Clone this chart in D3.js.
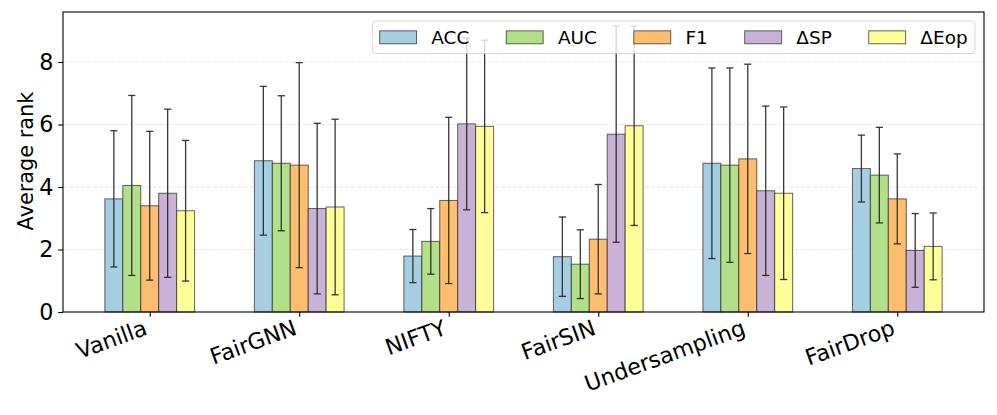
<!DOCTYPE html>
<html>
<head>
<meta charset="utf-8">
<script src="https://cdn.jsdelivr.net/npm/d3@7"></script>
<style>
  body { margin: 0; background: #fff; }
  text { font-family: "DejaVu Sans", sans-serif; }
</style>
</head>
<body>
<div id="chart"></div>
<script>
var svgWidth = 997;
var svgHeight = 415;

// data
var methods = ["Vanilla", "FairGNN", "NIFTY", "FairSIN", "Undersampling", "FairDrop"];
var metrics = ["ACC", "AUC", "F1", "\u0394SP", "\u0394Eop"];
var colors = ["#a6cee3", "#b2df8a", "#fdbf6f", "#cab2d6", "#ffff99"];

var accMean = [3.62, 4.84, 1.79, 1.77, 4.76, 4.59];
var accStd  = [2.18, 2.38, 0.85, 1.27, 3.05, 1.07];
var aucMean = [4.05, 4.76, 2.26, 1.53, 4.70, 4.38];
var aucStd  = [2.88, 2.16, 1.05, 1.10, 3.11, 1.53];
var f1Mean  = [3.40, 4.70, 3.57, 2.33, 4.90, 3.62];
var f1Std   = [2.38, 3.28, 2.66, 1.75, 3.03, 1.44];
var spMean  = [3.80, 3.31, 6.02, 5.69, 3.88, 1.97];
var spStd   = [2.69, 2.73, 2.75, 3.46, 2.71, 1.18];
var eopMean = [3.24, 3.36, 5.94, 5.96, 3.80, 2.10];
var eopStd  = [2.25, 2.81, 2.76, 3.19, 2.76, 1.07];

var yTicks = [0, 2, 4, 6, 8];

var means = [accMean, aucMean, f1Mean, spMean, eopMean];
var stds = [accStd, aucStd, f1Std, spStd, eopStd];

var barWidth = 0.12;
var plotLeft = 63, plotRight = 984, plotTop = 12, plotBottom = 312;
var px = 100 / 72; // points to pixels

var x = d3.scaleLinear().domain([-0.58, 5.58]).range([plotLeft, plotRight]);
var y = d3.scaleLinear().domain([0, 9.6]).range([plotBottom, plotTop]);

var svg = d3.select("#chart")
    .append("svg")
    .attr("width", svgWidth)
    .attr("height", svgHeight);

// grid
svg.append("g")
    .selectAll("line")
    .data(yTicks.slice(1))
    .enter()
    .append("line")
    .attr("x1", plotLeft)
    .attr("x2", plotRight)
    .attr("y1", function(d) { return y(d); })
    .attr("y2", function(d) { return y(d); })
    .attr("stroke", "#b0b0b0")
    .attr("stroke-opacity", 0.35)
    .attr("stroke-width", 0.8)
    .attr("stroke-dasharray", "4,2");

// flatten into one record per bar
var bars = [];
metrics.forEach(function(m, j) {
    methods.forEach(function(name, i) {
        bars.push({ i: i, j: j, mean: means[j][i], std: stds[j][i] });
    });
});

function barCenter(d) {
    return d.i + (d.j - 2) * barWidth;
}

svg.append("g")
    .selectAll("rect")
    .data(bars)
    .enter()
    .append("rect")
    .attr("x", function(d) { return x(barCenter(d) - barWidth / 2); })
    .attr("y", function(d) { return y(d.mean); })
    .attr("width", x(barWidth) - x(0))
    .attr("height", function(d) { return y(0) - y(d.mean); })
    .attr("fill", function(d) { return colors[d.j]; })
    .attr("stroke", "#222")
    .attr("stroke-opacity", 0.7)
    .attr("stroke-width", 1);

// error bars
var capHalf = 3.6;
var err = svg.append("g")
    .attr("stroke", "#222")
    .attr("stroke-width", 1.3)
    .attr("stroke-opacity", 0.9);

err.selectAll("line.v")
    .data(bars)
    .enter()
    .append("line")
    .attr("class", "v")
    .attr("x1", function(d) { return x(barCenter(d)); })
    .attr("x2", function(d) { return x(barCenter(d)); })
    .attr("y1", function(d) { return y(d.mean - d.std); })
    .attr("y2", function(d) { return y(d.mean + d.std); });

[-1, 1].forEach(function(s) {
    err.selectAll("line.cap" + (s > 0 ? "t" : "b"))
        .data(bars)
        .enter()
        .append("line")
        .attr("class", "cap" + (s > 0 ? "t" : "b"))
        .attr("x1", function(d) { return x(barCenter(d)) - capHalf; })
        .attr("x2", function(d) { return x(barCenter(d)) + capHalf; })
        .attr("y1", function(d) { return y(d.mean + s * d.std); })
        .attr("y2", function(d) { return y(d.mean + s * d.std); });
});

// axes
var tickLen = 3.5 * px;
var tickFont = 16 * px;

var yAxis = svg.append("g")
    .attr("transform", "translate(" + plotLeft + ",0)")
    .call(d3.axisLeft(y).tickValues(yTicks).tickSize(tickLen).tickPadding(tickLen).tickFormat(d3.format("d")));
yAxis.select(".domain").remove();
yAxis.selectAll("line").attr("stroke", "#000").attr("stroke-width", 1.1);
yAxis.selectAll("text")
    .attr("font-size", tickFont)
    .attr("font-family", "DejaVu Sans")
    .attr("fill", "#000");

var xAxis = svg.append("g")
    .attr("transform", "translate(0," + plotBottom + ")")
    .call(d3.axisBottom(x).tickValues(d3.range(methods.length)).tickSize(tickLen)
        .tickFormat(function(d) { return methods[d]; }));
xAxis.select(".domain").remove();
xAxis.selectAll("line").attr("stroke", "#000").attr("stroke-width", 1.1);
xAxis.selectAll("text")
    .attr("font-size", tickFont)
    .attr("font-family", "DejaVu Sans")
    .attr("fill", "#000")
    .attr("text-anchor", "end")
    .attr("y", null)
    .attr("dy", null)
    .attr("transform", "translate(-1.6,22) rotate(-20)");

svg.append("text")
    .attr("transform", "translate(33,161) rotate(-90)")
    .attr("text-anchor", "middle")
    .attr("font-size", 15 * px)
    .attr("fill", "#000")
    .text("Average rank");

// legend
var legFont = 18.45;
var borderPad = 0.4 * legFont;
var handleLen = 2 * legFont;
var handleH = 0.7 * legFont;
var textPad = 0.8 * legFont;
var colSpace = 2 * legFont;

var leg = svg.append("g");
var legBox = leg.append("rect")
    .attr("fill", "#fff")
    .attr("fill-opacity", 0.8)
    .attr("stroke", "#cccccc")
    .attr("stroke-opacity", 0.8)
    .attr("stroke-width", 1)
    .attr("rx", 0.2 * legFont)
    .attr("ry", 0.2 * legFont);

var items = leg.selectAll("g.item")
    .data(metrics)
    .enter()
    .append("g")
    .attr("class", "item");

items.append("rect")
    .attr("width", handleLen)
    .attr("height", handleH)
    .attr("y", -handleH / 2)
    .attr("fill", function(d, j) { return colors[j]; })
    .attr("stroke", "#222")
    .attr("stroke-opacity", 0.7)
    .attr("stroke-width", 1);

items.append("text")
    .attr("x", handleLen + textPad)
    .attr("y", 0)
    .attr("dy", "0.36em")
    .attr("font-size", legFont)
    .attr("fill", "#000")
    .text(function(d) { return d; });

var widths = [];
items.select("text").each(function() { widths.push(this.getComputedTextLength()); });
var totalW = 2 * borderPad + d3.sum(widths) + metrics.length * (handleLen + textPad) + (metrics.length - 1) * colSpace;
var legH = 32.6;
var legRight = plotRight - 9;
var legTop = plotTop + 9;
var legLeft = legRight - totalW;

legBox.attr("x", legLeft).attr("y", legTop).attr("width", totalW).attr("height", legH);

var cx = legLeft + borderPad;
items.attr("transform", function(d, j) {
    var t = "translate(" + cx + "," + (legTop + legH / 2) + ")";
    cx += handleLen + textPad + widths[j] + colSpace;
    return t;
});

// frame
svg.append("rect")
    .attr("x", plotLeft)
    .attr("y", plotTop)
    .attr("width", plotRight - plotLeft)
    .attr("height", plotBottom - plotTop)
    .attr("fill", "none")
    .attr("stroke", "#000")
    .attr("stroke-width", 1.1);
</script>
</body>
</html>
